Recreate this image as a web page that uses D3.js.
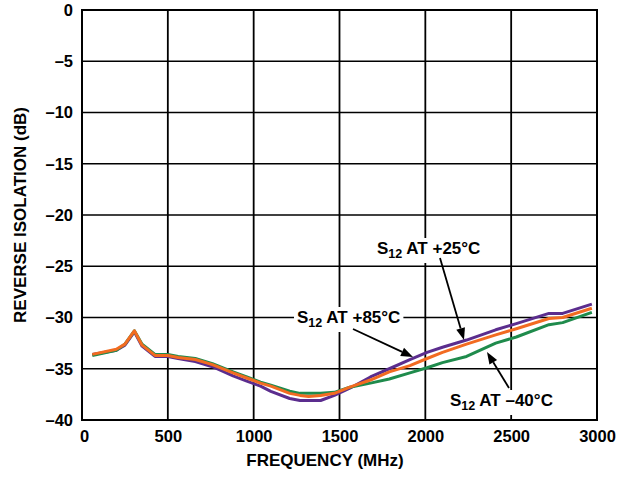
<!DOCTYPE html>
<html>
<head>
<meta charset="utf-8">
<script src="https://cdn.jsdelivr.net/npm/d3@7"></script>
<style>
  body { margin: 0; background: #fff; }
  text { font-family: "Liberation Sans", Arial, sans-serif; font-weight: bold; fill: #000; }
</style>
</head>
<body>
<div id="chart"></div>
<script>
// chart size
const width = 628, height = 477;
const margin = {top: 10, right: 31, bottom: 57, left: 82};

// data (MHz, dB)
const freq = [60, 200, 250, 305, 350, 425, 500, 560, 660, 760, 880, 960, 1040, 1100, 1210, 1270,
              1320, 1390, 1470, 1560, 1680, 1790, 1910, 2010, 2100, 2240, 2410, 2530, 2720, 2800, 2970];
const s12_85 = [-33.6, -33.2, -32.7, -31.4, -32.8, -33.8, -33.8, -34.0, -34.3, -34.8, -35.7, -36.2, -36.7, -37.2, -37.9, -38.1,
                -38.1, -38.1, -37.6, -36.9, -35.8, -35.0, -34.1, -33.4, -32.9, -32.2, -31.2, -30.6, -29.6, -29.6, -28.7];
const s12_m40 = [-33.7, -33.2, -32.6, -31.3, -32.6, -33.6, -33.6, -33.8, -34.0, -34.5, -35.3, -35.8, -36.3, -36.6, -37.2, -37.4,
                 -37.4, -37.4, -37.3, -36.8, -36.4, -36.0, -35.4, -34.9, -34.4, -33.8, -32.5, -31.9, -30.7, -30.5, -29.5];
const s12_25 = [-33.6, -33.1, -32.6, -31.3, -32.7, -33.7, -33.7, -33.9, -34.1, -34.6, -35.4, -35.9, -36.4, -36.7, -37.4, -37.6,
                -37.7, -37.6, -37.4, -36.8, -36.1, -35.3, -34.7, -34.0, -33.4, -32.6, -31.7, -31.1, -30.1, -30.0, -29.1];

const xTicks = [0, 500, 1000, 1500, 2000, 2500, 3000];
const yTicks = [0, -5, -10, -15, -20, -25, -30, -35, -40];

const FS = "17px";

const svg = d3.select("#chart").append("svg")
    .attr("width", width)
    .attr("height", height);

const w = width - margin.left - margin.right;
const h = height - margin.top - margin.bottom;

const x = d3.scaleLinear().domain([0, 3000]).range([0, w]);
const y = d3.scaleLinear().domain([-40, 0]).range([h, 0]);

const g = svg.append("g").attr("transform", `translate(${margin.left},${margin.top})`);

// grid
g.append("g").selectAll("line").data(xTicks.slice(1, -1)).enter().append("line")
    .attr("x1", d => x(d)).attr("x2", d => x(d))
    .attr("y1", 0).attr("y2", h)
    .attr("stroke", "#000").attr("stroke-width", 1.8);
g.append("g").selectAll("line").data(yTicks.slice(1, -1)).enter().append("line")
    .attr("x1", 0).attr("x2", w)
    .attr("y1", d => y(d)).attr("y2", d => y(d))
    .attr("stroke", "#000").attr("stroke-width", 1.6);
g.append("rect").attr("width", w).attr("height", h)
    .attr("fill", "none").attr("stroke", "#000").attr("stroke-width", 2);

// curves
const line = d3.line().x(d => x(d[0])).y(d => y(d[1]));
const series = [
    {vals: s12_85, color: "#5b2d8e"},
    {vals: s12_m40, color: "#1f8b4c"},
    {vals: s12_25, color: "#f26b21"}
];
series.forEach(s => {
    g.append("path")
        .datum(freq.map((f, i) => [f, s.vals[i]]))
        .attr("d", line)
        .attr("fill", "none")
        .attr("stroke", s.color)
        .attr("stroke-width", 3)
        .attr("stroke-linejoin", "round");
});

// axes (labels only)
const xAxis = g.append("g").attr("transform", `translate(0,${h})`)
    .call(d3.axisBottom(x).tickValues(xTicks).tickSize(0).tickPadding(10).tickFormat(d => String(d)));
const yAxis = g.append("g")
    .call(d3.axisLeft(y).tickValues(yTicks).tickSize(0).tickPadding(9)
        .tickFormat(d => d < 0 ? "\u2013" + Math.abs(d) : String(d)));
[xAxis, yAxis].forEach(a => {
    a.select(".domain").remove();
    a.selectAll("text").style("font-size", "16.5px").style("font-family", "'Liberation Sans', Arial, sans-serif")
        .style("font-weight", "bold").attr("fill", "#000");
});
// nudge the zero label a touch right so it clears the corner
xAxis.selectAll(".tick").filter(d => d === 0).select("text").attr("x", 2);

svg.append("text")
    .attr("x", 325).attr("y", 466)
    .attr("text-anchor", "middle").style("font-size", FS)
    .text("FREQUENCY (MHz)");
svg.append("text")
    .attr("transform", `translate(26,${margin.top + h / 2}) rotate(-90)`)
    .attr("text-anchor", "middle").style("font-size", FS)
    .text("REVERSE ISOLATION (dB)");

// curve labels with white backing over the grid
const labels = svg.append("g");
function label(px, py, temp) {
    const t = labels.append("text").attr("x", px).attr("y", py).style("font-size", FS);
    t.append("tspan").text("S");
    t.append("tspan").attr("dy", 4).style("font-size", "12.5px").text("12");
    t.append("tspan").attr("dy", -4).text(" AT " + temp);
    const b = t.node().getBBox();
    labels.insert("rect", () => t.node()).attr("x", b.x - 3).attr("y", b.y - 1)
        .attr("width", b.width + 6).attr("height", b.height + 3).attr("fill", "#fff");
}
label(377, 254, "+25\u00b0C");
label(297, 323, "+85\u00b0C");
label(450, 406, "\u201340\u00b0C");

// arrows: shaft plus a filled head drawn as a path
const arrows = [[440, 258, 464, 340], [353, 329, 413, 357], [509, 388, 487, 352]];
const arr = svg.append("g");
arrows.forEach(a => {
    const [x1, y1, x2, y2] = a;
    const ang = Math.atan2(y2 - y1, x2 - x1);
    const len = 12, half = 4.5;
    const bx = x2 - len * Math.cos(ang), by = y2 - len * Math.sin(ang);
    arr.append("line")
        .attr("x1", x1).attr("y1", y1).attr("x2", bx).attr("y2", by)
        .attr("stroke", "#000").attr("stroke-width", 1.8);
    const p = d3.path();
    p.moveTo(x2, y2);
    p.lineTo(bx - half * Math.sin(ang), by + half * Math.cos(ang));
    p.lineTo(bx + half * Math.sin(ang), by - half * Math.cos(ang));
    p.closePath();
    arr.append("path").attr("d", p.toString()).attr("fill", "#000");
});
</script>
</body>
</html>
